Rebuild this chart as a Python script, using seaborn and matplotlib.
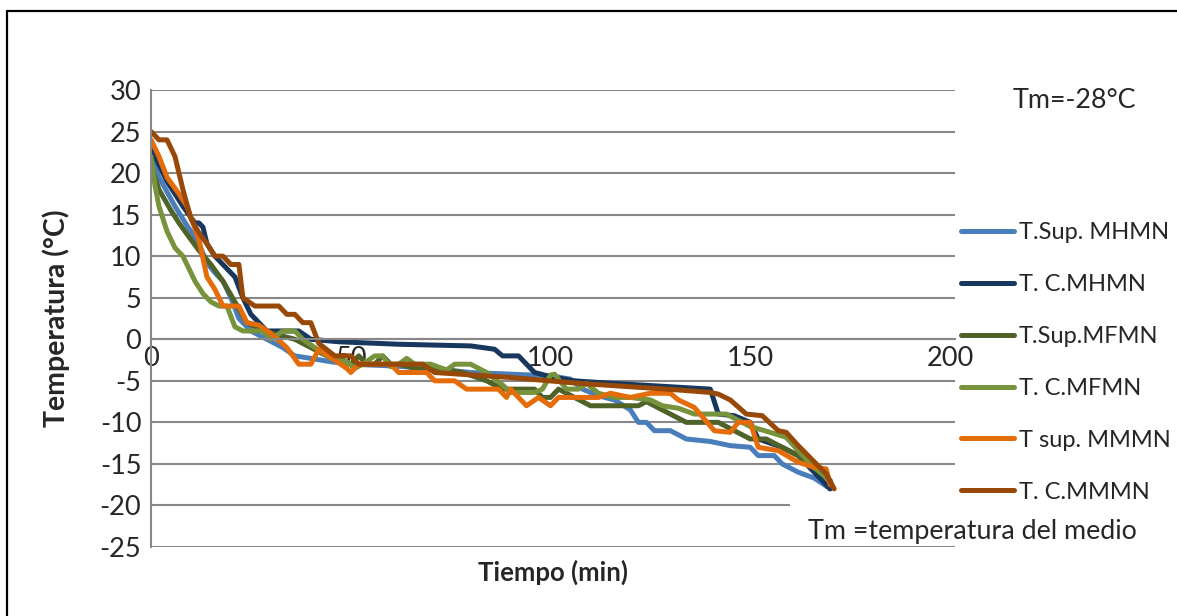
import pandas as pd
import matplotlib.pyplot as plt
import seaborn as sns
from matplotlib.lines import Line2D
from matplotlib.patches import Rectangle

# Datos (tiempo en min, temperatura en °C)
t_sup_mhmn = [0, 2, 6, 9, 12, 14, 16, 18, 20, 22, 25, 29, 33, 36, 40, 45, 50, 60, 70, 80, 90, 100,
              105, 108, 112, 116, 120, 122, 124, 126, 130, 134, 140, 145, 150, 152, 156, 158, 162, 166, 170]
v_sup_mhmn = [22, 19.5, 16, 13.7, 11.5, 9.2, 8, 7, 5, 2.5, 1, 0, -1, -2, -2.3, -2.7, -3, -3.2, -3.5, -4, -4.2, -4.4,
              -4.8, -6, -6.8, -7.3, -8.5, -10, -10, -11, -11, -12, -12.3, -12.8, -13, -14, -14, -15, -16, -16.7, -18]

t_c_mhmn = [0, 4, 8, 11, 12, 13, 14, 16, 18, 21, 23, 25, 27, 29, 37, 40, 47, 62, 80, 86, 88, 92, 96,
            100, 106, 112, 140, 142, 146, 150, 152, 158, 162, 166, 170]
v_c_mhmn = [23, 19, 16, 14, 14, 13.5, 11.5, 10, 9, 7.5, 5, 3, 2, 1, 1, 0, -0.3, -0.6, -0.8, -1.2, -2, -2, -4,
            -4.5, -5, -5.2, -6, -9, -9.2, -10, -12, -13, -14, -16, -18]

t_sup_mfmn = [0, 2, 5, 7, 10, 12, 15, 18, 21, 24, 28, 32, 36, 40, 44, 48, 50, 52, 54, 56, 58, 60, 62, 66,
              72, 78, 84, 88, 92, 96, 98, 100, 102, 106, 110, 114, 118, 122, 124, 126, 130, 134, 138, 142,
              146, 150, 154, 158, 162, 166, 170]
v_sup_mfmn = [21, 18, 15.5, 14, 12, 10.7, 9, 7, 4.5, 2, 1, 0.5, 0, -1, -2, -2.5, -3, -2, -3, -3, -2, -3, -3, -3.5,
              -3.5, -4, -5, -6, -6, -6, -7, -7, -6, -7, -8, -8, -8, -8, -7.5, -8, -9, -10, -10, -10,
              -11, -12, -12, -13, -14, -15.5, -17]

t_c_mfmn = [0, 1, 2, 4, 6, 8, 11, 13, 15, 17, 19, 21, 23, 28, 30, 33, 36, 38, 41, 45, 49, 51, 53, 56, 58,
            60, 62, 64, 66, 70, 74, 76, 80, 84, 88, 90, 96, 98, 100, 101, 104, 107, 109, 112, 116, 120,
            125, 128, 132, 136, 144, 146, 150, 155, 159, 162, 166, 170]
v_c_mfmn = [22, 18.5, 16, 13, 11, 10, 7, 5.5, 4.5, 4, 4, 1.5, 1, 1, 0, 1, 1, 0, -1, -2.3, -2.7, -3.5, -3, -2, -2,
            -3.3, -3, -2.3, -3, -3, -3.7, -3, -3, -4, -5.5, -6.4, -6.4, -6, -4.3, -4.2, -6, -6, -5.3, -6.5, -7, -7,
            -7.3, -8, -8.3, -9, -9, -9.5, -10.5, -11.2, -11.8, -13.4, -15.4, -17]

t_sup_mmmn = [0, 2, 4, 7, 9, 12, 14, 16, 18, 22, 24, 27, 30, 34, 37, 40, 42, 45, 49, 50, 52, 60, 62, 65,
              69, 71, 76, 79, 87, 89, 90, 94, 97, 100, 102, 112, 115, 120, 125, 130, 132, 136, 141, 145,
              147, 150, 152, 157, 162, 166, 169, 170]
v_sup_mmmn = [24, 22, 19.5, 17.5, 16, 12, 7.5, 6, 4, 4, 2, 1.7, 0.7, -1, -3, -3, -1.2, -2.2, -3.5, -4, -3, -3, -4, -4,
              -4, -5, -5, -6, -6, -7, -6, -8, -7, -8, -7, -7, -6.5, -7, -6.5, -6.5, -7.3, -8.2, -11, -11.2,
              -10, -10, -13, -13.4, -14.8, -15.4, -15.6, -17.5]

t_c_mmmn = [0, 2, 4, 6, 8, 10, 12, 14, 16, 18, 20, 22, 23, 26, 32, 34, 36, 38, 40, 42, 46, 50, 52, 57, 68,
            71, 90, 107, 132, 140, 142, 145, 149, 153, 157, 159, 162, 169, 171]
v_c_mmmn = [25, 24, 24, 22, 18, 14.5, 12.8, 11.5, 10, 10, 9, 9, 5, 4, 4, 3, 3, 2, 2, -0.5, -2, -2, -3, -3, -3,
            -4, -4.6, -5.3, -6.1, -6.4, -6.6, -7.3, -9, -9.2, -11, -11.2, -12.8, -16.2, -18]

series = ["T.Sup. MHMN", "T. C.MHMN", "T.Sup.MFMN", "T. C.MFMN", "T sup. MMMN", "T. C.MMMN"]
tiempos = [t_sup_mhmn, t_c_mhmn, t_sup_mfmn, t_c_mfmn, t_sup_mmmn, t_c_mmmn]
valores = [v_sup_mhmn, v_c_mhmn, v_sup_mfmn, v_c_mfmn, v_sup_mmmn, v_c_mmmn]
colores = ["#4A7EBB", "#17375E", "#4F6228", "#77933C", "#E46C0A", "#984807"]

y_ticks = list(range(-25, 31, 5))
x_ticks = [0, 50, 100, 150, 200]

# tabla larga para seaborn
filas = []
for nombre, tt, vv in zip(series, tiempos, valores):
    for a, b in zip(tt, vv):
        filas.append({"Tiempo": a, "Temp": b, "Serie": nombre})
df = pd.DataFrame(filas)

sns.set_style("white")
plt.rcParams["font.family"] = ["Lato", "DejaVu Sans"]
plt.rcParams["axes.unicode_minus"] = False

fig = plt.figure(figsize=(11.77, 6.16), dpi=100)
ax = fig.add_axes([151 / 1177, 69 / 616, 804 / 1177, 457 / 616])

sns.lineplot(data=df, x="Tiempo", y="Temp", hue="Serie", hue_order=series,
             palette=colores, sort=False, estimator=None, linewidth=3.6, ax=ax)

ax.set_xlim(0, 201.25)
ax.set_ylim(-25, 30)
ax.set_yticks(y_ticks)
ax.set_xticks(x_ticks)
ax.grid(axis="y", color="#888888", linewidth=1.5)
ax.set_axisbelow(True)

for s in ["top", "right"]:
    ax.spines[s].set_visible(False)
ax.spines["left"].set_color("#888888")
ax.spines["left"].set_linewidth(1.5)
ax.spines["bottom"].set_position(("data", 0))
ax.spines["bottom"].set_color("#888888")
ax.spines["bottom"].set_linewidth(1.5)
ax.tick_params(axis="both", length=0, labelsize=19.5)
ax.tick_params(axis="y", pad=7)
ax.tick_params(axis="x", pad=5)

ax.set_xlabel("Tiempo (min)", fontsize=18.5, fontweight="bold")
ax.set_ylabel("Temperatura (°C)", fontsize=20.5, fontweight="bold")
ax.xaxis.set_label_coords(0.5, -0.055)
ax.xaxis.label.set_va("center")
ax.yaxis.set_label_coords(-0.1175, 0.5)
ax.yaxis.label.set_va("center")

# leyenda a la derecha
handles, labels = ax.get_legend_handles_labels()
ax.legend(handles, labels, loc="upper left", bbox_to_anchor=(961 / 1177, 1 - 222 / 616),
          bbox_transform=fig.transFigure, frameon=False, fontsize=17, borderpad=0,
          handlelength=2.25, handletextpad=0.2, labelspacing=1.31, borderaxespad=0)

# cuadro blanco con la nota
fig.patches.append(Rectangle((790 / 1177, 72 / 616), 385 / 1177, 43 / 616,
                             transform=fig.transFigure, facecolor="white", edgecolor="none", zorder=2))
fig.text(808 / 1177, 1 - 532 / 616, "Tm =temperatura del medio", fontsize=19.4, va="center", zorder=3)
fig.text(1013 / 1177, 1 - 100 / 616, "Tm=-28°C", fontsize=19.4, va="center")

# marco exterior
fig.add_artist(Line2D([7 / 1177, 7 / 1177], [0, 1 - 11 / 616], transform=fig.transFigure,
                      color="black", linewidth=1.6))
fig.add_artist(Line2D([7 / 1177, 1], [1 - 11 / 616, 1 - 11 / 616], transform=fig.transFigure,
                      color="black", linewidth=1.6))

plt.savefig("out.png", dpi=100)
